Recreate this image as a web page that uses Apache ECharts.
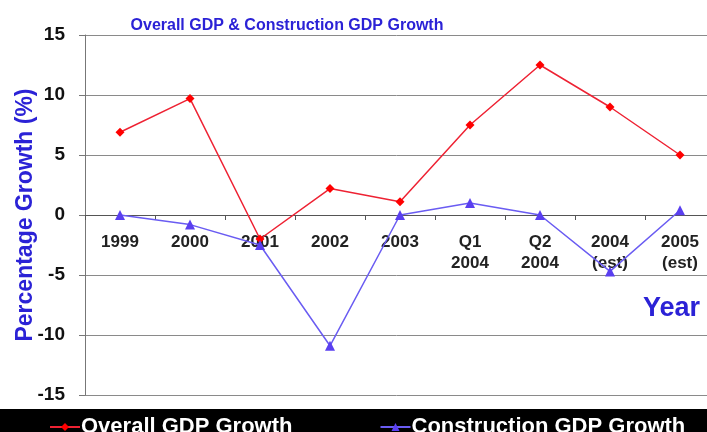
<!DOCTYPE html>
<html>
<head>
<meta charset="utf-8">
<script src="https://cdn.jsdelivr.net/npm/echarts@6/dist/echarts.min.js"></script>
<style>html,body{margin:0;padding:0;background:#fff}#c{width:707px;height:432px}</style>
</head>
<body>
<div id="c"></div>
<script>
var categories = ['1999', '2000', '2001', '2002', '2003', 'Q1\n2004', 'Q2\n2004', '2004\n(est)', '2005\n(est)'];
var overallGDP = [6.9, 9.7, -2.0, 2.2, 1.1, 7.5, 12.5, 9.0, 5.0];
var constructionGDP = [0, -0.8, -2.5, -10.9, 0, 1.0, 0, -4.7, 0.4];
var yTicks = { min: -15, max: 15, interval: 5 };

var chart = echarts.init(document.getElementById('c'), null, { renderer: 'canvas' });
var font = 'Arial, "Liberation Sans", sans-serif';
chart.setOption({
  animation: false,
  backgroundColor: '#ffffff',
  title: {
    text: 'Overall GDP & Construction GDP Growth',
    left: 282, top: 13, textAlign: 'center',
    textStyle: { color: '#2b22d6', fontSize: 16, fontWeight: 'bold', fontFamily: font }
  },
  graphic: [
    { type: 'rect', left: 0, top: 409, z: 0, shape: { width: 707, height: 23 }, style: { fill: '#000000' } },
    { type: 'text', left: 643, top: 295, z: 10, style: { text: 'Year', fill: '#2b22d6', font: 'bold 27px ' + font } }
  ],
  legend: {
    left: 44, top: 411, itemWidth: 30, itemHeight: 10, itemGap: 87,
    textStyle: { color: '#ffffff', fontSize: 22, fontWeight: 'bold', fontFamily: font, padding: [0, 0, 0, -4] },
    data: ['Overall GDP Growth', 'Construction GDP Growth']
  },
  grid: { left: 85, right: -8, top: 35, bottom: 37, containLabel: false, outerBoundsMode: 'none' },
  xAxis: {
    type: 'category', data: categories, boundaryGap: true,
    position: 'bottom', offset: -180,
    axisLine: { onZero: false, lineStyle: { color: '#555555', width: 1 } },
    axisTick: { show: true, length: 5, lineStyle: { color: '#555555' } },
    axisLabel: { color: '#222222', fontSize: 17, fontWeight: 'bold', fontFamily: font, margin: 17, lineHeight: 21, interval: 0 }
  },
  yAxis: {
    type: 'value', min: yTicks.min, max: yTicks.max, interval: yTicks.interval,
    name: 'Percentage Growth (%)', nameLocation: 'middle', nameGap: 48, nameMoveOverlap: false,
    nameTextStyle: { color: '#2b22d6', fontSize: 23, fontWeight: 'bold', fontFamily: font },
    axisLine: { show: true, lineStyle: { color: '#777777' } },
    axisTick: { show: true, length: 6, lineStyle: { color: '#777777' } },
    axisLabel: { color: '#111111', fontSize: 19, fontWeight: 'bold', fontFamily: font, margin: 20 },
    splitLine: { show: true, lineStyle: { color: '#8a8a8a', width: 1 } }
  },
  series: [
    {
      name: 'Overall GDP Growth', type: 'line', data: overallGDP,
      symbol: 'diamond', symbolSize: 9,
      lineStyle: { color: '#ee2233', width: 1.5 },
      itemStyle: { color: '#ff0000' }, z: 3
    },
    {
      name: 'Construction GDP Growth', type: 'line', data: constructionGDP,
      symbol: 'triangle', symbolSize: 10,
      lineStyle: { color: '#6a5cf2', width: 1.5 },
      itemStyle: { color: '#5a3ff0' }, z: 4
    }
  ]
});
</script>
</body>
</html>
